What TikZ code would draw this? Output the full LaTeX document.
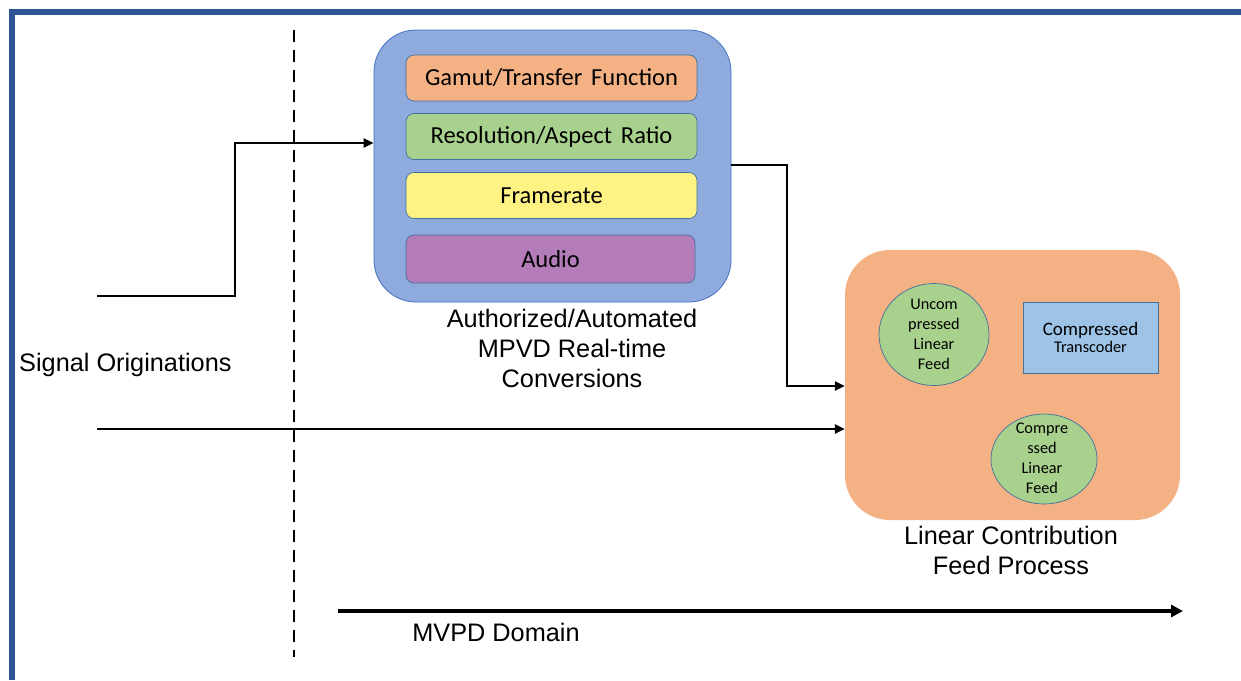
\documentclass[tikz,border=0pt]{standalone}
\usepackage{fontspec}
\setmainfont{Liberation Sans}
\newfontfamily\calfont{Carlito}
\newfontfamily\calwide{Carlito}[WordSpace=1.6]
\usetikzlibrary{arrows.meta,shapes.geometric}
\definecolor{framec}{HTML}{2F5597}
\definecolor{convfill}{HTML}{8FAADC}
\definecolor{convdraw}{HTML}{4472C4}
\definecolor{orangef}{HTML}{F4B183}
\definecolor{greenf}{HTML}{A9D18E}
\definecolor{yellowf}{HTML}{FFF285}
\definecolor{purplef}{HTML}{B47CB8}
\definecolor{lightblue}{HTML}{9DC3E6}
\definecolor{thinb}{HTML}{41719C}
\begin{document}
\begin{tikzpicture}[x=1pt,y=-1pt,
  conn/.style={line width=2.8pt, -{Triangle[length=10pt,width=9pt]}},
  domainarrow/.style={line width=4pt, -{Triangle[length=12pt,width=12pt]}},
  divider/.style={line width=2.8pt, dash pattern=on 12pt off 8pt},
  container/.style={inner sep=0pt},
  innerbox/.style={draw=thinb, line width=0.7pt, rounded corners=8pt, minimum width=291pt, minimum height=46pt, inner sep=0pt, font=\calwide\fontsize{24.5}{28}\selectfont},
  feed/.style={draw=thinb, line width=0.7pt, ellipse, fill=greenf, inner sep=0pt},
  smalltxt/.style={align=center, inner sep=0pt, font=\calfont\fontsize{16.3}{20}\selectfont},
  bigtxt/.style={align=center, inner sep=0pt, font=\fontsize{25.3}{30}\selectfont}]
\useasboundingbox (0,0) rectangle (1241,680);
% frame
\draw[framec, line width=6pt] (12,680) -- (12,12) -- (1241,12);
% divider
\coordinate (d1) at (294,30);
\coordinate (d2) at (294,657);
\draw[divider] (d1) -- (d2);
% conversion box
\node[container, draw=convdraw, line width=0.8pt, fill=convfill, rounded corners=42pt, minimum width=357pt, minimum height=272pt] (conv) at (552.5,166) {};
\node[innerbox, fill=orangef] (gamut) at (551.5,78) {Gamut/Transfer Function};
\node[innerbox, fill=greenf] (res) at (551.5,136.5) {Resolution/Aspect Ratio};
\node[innerbox, fill=yellowf] (frame) at (551.5,195.5) {Framerate};
\node[innerbox, fill=purplef, minimum width=289pt, minimum height=48pt] (audio) at (550.5,259) {Audio};
\node[bigtxt] (convlbl) at (572,348) {Authorized/Automated\\MPVD Real-time\\Conversions};
% linear contribution box
\node[container, fill=orangef, rounded corners=45pt, minimum width=335pt, minimum height=270pt] (lin) at (1012.5,385) {};
\node[feed, minimum width=110pt, minimum height=102pt] (unc) at (934,334.5) {};
\node[smalltxt] (unctxt) at (unc.center) {Uncom\\pressed\\Linear\\Feed};
\node[draw=thinb, line width=0.7pt, fill=lightblue, minimum width=135pt, minimum height=71pt, inner sep=0pt, align=center] (trans) at (1090.5,337.5) {{\calfont\fontsize{19}{21}\selectfont Compressed}\\[2pt]{\calfont\fontsize{16.3}{21}\selectfont Transcoder}};
\node[feed, minimum width=106pt, minimum height=90pt] (cmp) at (1044,459) {};
\node[smalltxt] (cmptxt) at (1042,458.5) {Compre\\ssed\\Linear\\Feed};
\node[bigtxt] (linlbl) at (1011,550) {Linear Contribution\\Feed Process};
% signal originations
\node[bigtxt, anchor=west] (sig) at (19,365) {Signal Originations};
% connectors
\coordinate (s1) at (97,296);
\coordinate (b1) at (235,143);
\draw[conn] (s1) -| (b1) -- (b1 -| conv.west);
\coordinate (o1) at (conv.east |- 0,165);
\coordinate (b2) at (787,386);
\draw[conn] (o1) -| (b2) -- (b2 -| lin.west);
\coordinate (s2) at (97,429);
\draw[conn] (s2) -- (s2 -| lin.west);
% domain
\coordinate (m1) at (338,611);
\coordinate (m2) at (1183,611);
\draw[domainarrow] (m1) -- (m2);
\node[bigtxt] (dom) at (496,632) {MVPD Domain};
\end{tikzpicture}
\end{document}
